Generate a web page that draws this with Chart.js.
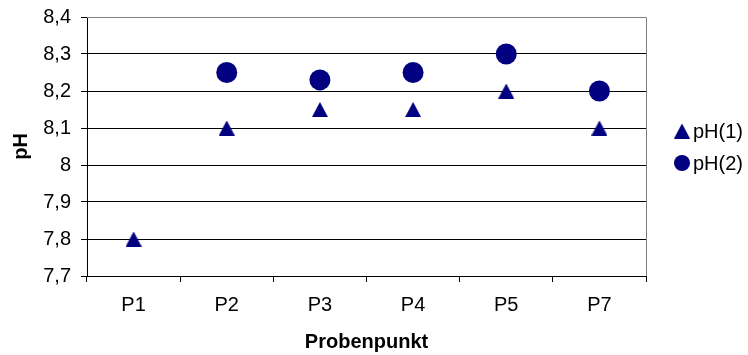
<!DOCTYPE html>
<html>
<head>
<meta charset="utf-8">
<script src="https://cdn.jsdelivr.net/npm/chart.js@4/dist/chart.umd.min.js"></script>
<style>
  html, body { margin: 0; padding: 0; background: #fff; }
  #wrap { width: 748px; height: 355px; position: relative; }
</style>
</head>
<body>
<div id="wrap"><canvas id="c" width="748" height="355"></canvas></div>
<script>
// Sample points and measured pH values
const categories = ['P1', 'P2', 'P3', 'P4', 'P5', 'P7'];
const ph1 = [7.8, 8.1, 8.15, 8.15, 8.2, 8.1];
const ph2 = [null, 8.25, 8.23, 8.25, 8.3, 8.2];
const seriesNames = ['pH(1)', 'pH(2)'];
const yTicks = [7.7, 7.8, 7.9, 8.0, 8.1, 8.2, 8.3, 8.4];

const NAVY = '#000080';
const FONT = "'Liberation Sans', Arial, sans-serif";
const FS = 20;

// Filled triangle marker, centred on its bounding box
function makeTriangle(w, h) {
  const cv = document.createElement('canvas');
  cv.width = w; cv.height = h;
  const g = cv.getContext('2d');
  g.fillStyle = NAVY;
  g.beginPath();
  g.moveTo(w / 2, 0);
  g.lineTo(w, h);
  g.lineTo(0, h);
  g.closePath();
  g.fill();
  return cv;
}
const triangle = makeTriangle(16, 15);

function fmt(v) {
  return String(Number(v.toFixed(1))).replace('.', ',');
}

// Gray frame on the top and right edges of the plot area
const framePlugin = {
  id: 'frame',
  afterDatasetsDraw(chart) {
    const { ctx, chartArea: a } = chart;
    ctx.save();
    ctx.strokeStyle = '#808080';
    ctx.lineWidth = 1;
    ctx.beginPath();
    ctx.moveTo(a.left, a.top + 0.5);
    ctx.lineTo(a.right + 0.5, a.top + 0.5);
    ctx.lineTo(a.right + 0.5, a.bottom);
    ctx.stroke();
    ctx.restore();
  }
};

// Legend on the right, using each dataset's own marker
const legendPlugin = {
  id: 'sideLegend',
  afterDraw(chart) {
    const { ctx } = chart;
    const x0 = 682, y0 = 131, dy = 32;
    ctx.save();
    ctx.font = FS + 'px ' + FONT;
    ctx.textBaseline = 'middle';
    chart.data.datasets.forEach((ds, i) => {
      const y = y0 + i * dy;
      if (ds.pointStyle instanceof HTMLCanvasElement) {
        const im = ds.pointStyle;
        ctx.drawImage(im, x0 - im.width / 2, y - im.height / 2);
      } else {
        ctx.fillStyle = ds.pointBackgroundColor;
        ctx.beginPath();
        ctx.arc(x0, y, ds.pointRadius - 2.5, 0, Math.PI * 2);
        ctx.fill();
      }
      ctx.fillStyle = '#000';
      ctx.fillText(ds.label, 693, y + 1);
    });
    ctx.restore();
  }
};

new Chart(document.getElementById('c'), {
  type: 'line',
  data: {
    labels: categories,
    datasets: [
      {
        label: seriesNames[0],
        data: ph1,
        showLine: false,
        pointStyle: triangle,
        pointBackgroundColor: NAVY,
        pointBorderColor: NAVY,
        pointRadius: 8,
        pointHoverRadius: 8
      },
      {
        label: seriesNames[1],
        data: ph2,
        showLine: false,
        pointStyle: 'circle',
        pointBackgroundColor: NAVY,
        pointBorderColor: NAVY,
        pointBorderWidth: 0,
        pointRadius: 10.5,
        pointHoverRadius: 10.5
      }
    ]
  },
  options: {
    responsive: false,
    animation: false,
    events: [],
    layout: { padding: { top: 17, right: 102, bottom: 0, left: 9 } },
    plugins: { legend: { display: false }, tooltip: { enabled: false } },
    scales: {
      x: {
        offset: true,
        afterFit(s) { s.height = 79; s.paddingLeft = 0; s.paddingRight = 0; },
        grid: {
          offset: true,
          drawOnChartArea: false,
          drawTicks: true,
          tickLength: 6,
          color: '#000'
        },
        border: { color: '#000', width: 1 },
        ticks: { color: '#000', font: { family: FONT, size: FS }, padding: 11 },
        title: {
          display: true,
          text: 'Probenpunkt',
          color: '#000',
          font: { family: FONT, size: FS, weight: 'bold' },
          padding: { top: 0, bottom: 1 }
        }
      },
      y: {
        min: yTicks[0],
        max: yTicks[yTicks.length - 1],
        afterFit(s) { s.width = 78; s.paddingTop = 0; s.paddingBottom = 0; },
        afterBuildTicks(s) { s.ticks = yTicks.map(v => ({ value: v })); },
        grid: {
          color: ctx => (ctx.tick && ctx.tick.value === yTicks[yTicks.length - 1]) ? '#808080' : '#000',
          tickColor: '#000',
          tickLength: 6,
          lineWidth: 1
        },
        border: { color: '#000', width: 1 },
        ticks: {
          color: '#000',
          font: { family: FONT, size: FS },
          padding: 10,
          callback: v => fmt(v)
        },
        title: {
          display: true,
          text: 'pH',
          color: '#000',
          font: { family: FONT, size: FS, weight: 'bold' },
          padding: { top: 0, bottom: 0 }
        }
      }
    }
  },
  plugins: [framePlugin, legendPlugin]
});
</script>
</body>
</html>
